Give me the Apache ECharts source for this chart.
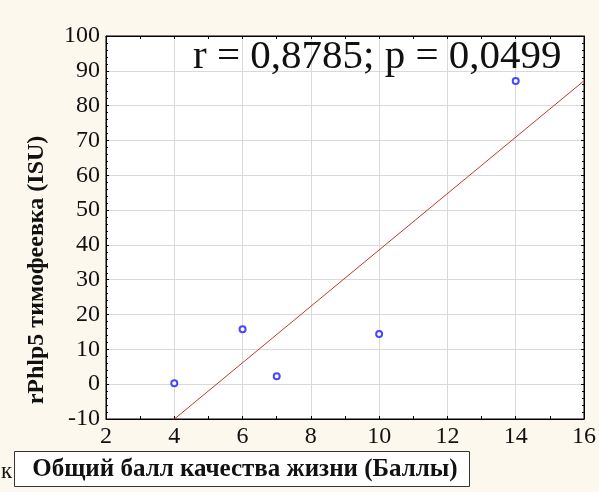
<!DOCTYPE html>
<html>
<head>
<meta charset="utf-8">
<script src="https://cdn.jsdelivr.net/npm/echarts@6/dist/echarts.min.js"></script>
<style>
html,body{margin:0;padding:0;background:#fcf8ee;}
#c{width:599px;height:492px;}
</style>
</head>
<body>
<div id="c"></div>
<script>
var xValues = [4, 6, 7, 10, 14];
var yValues = [0.3, 15.8, 2.3, 14.4, 87.1];
var xTicks = [2, 4, 6, 8, 10, 12, 14, 16];
var yTicks = [-10, 0, 10, 20, 30, 40, 50, 60, 70, 80, 90, 100];
var statText = 'r = 0,8785; p = 0,0499';
var xTitle = 'Общий балл качества жизни (Баллы)';
var yTitle = 'rPhlp5 тимофеевка (ISU)';
var strayLetter = 'к';

var points = xValues.map(function (x, i) { return [x, yValues[i]]; });
// least squares fit
var n = xValues.length, mx = 0, my = 0;
for (var i = 0; i < n; i++) { mx += xValues[i]; my += yValues[i]; }
mx /= n; my /= n;
var sxx = 0, sxy = 0;
for (var i = 0; i < n; i++) { sxx += (xValues[i]-mx)*(xValues[i]-mx); sxy += (xValues[i]-mx)*(yValues[i]-my); }
var slope = sxy / sxx, icpt = my - slope * mx;
var xMin = xTicks[0], xMax = xTicks[xTicks.length-1];
var yMin = yTicks[0], yMax = yTicks[yTicks.length-1];
var fitLine = [[xMin, icpt + slope * xMin], [xMax, icpt + slope * xMax]];

var serif = '"Liberation Serif","Times New Roman",serif';
var chart = echarts.init(document.getElementById('c'));
chart.setOption({
  backgroundColor: '#fcf8ee',
  animation: false,
  grid: { left: 106, right: 13, top: 36, bottom: 73, show: true, backgroundColor: '#ffffff', borderColor: '#000', borderWidth: 1 },
  xAxis: [{
    type: 'value', min: xMin, max: xMax, interval: 2,
    axisLine: { show: true, onZero: false, lineStyle: { color: '#000' } },
    axisTick: { show: true, inside: true, length: 3, lineStyle: { color: '#000' } },
    minorTick: { show: true, splitNumber: 2, length: 3, lineStyle: { color: '#000' } },
    splitLine: { show: true, lineStyle: { color: '#d9d9d9', width: 1 } },
    axisLabel: { fontFamily: serif, fontSize: 24, color: '#111', margin: 6 }
  }, {
    type: 'value', min: xMin, max: xMax, interval: 2, position: 'top',
    axisLine: { show: true, onZero: false, lineStyle: { color: '#000' } },
    axisTick: { show: true, inside: true, length: 3, lineStyle: { color: '#000' } },
    minorTick: { show: true, splitNumber: 2, length: 3, lineStyle: { color: '#000' } },
    splitLine: { show: false }, axisLabel: { show: false }
  }],
  yAxis: [{
    type: 'value', min: yMin, max: yMax, interval: 10,
    axisLine: { show: true, onZero: false, lineStyle: { color: '#000' } },
    axisTick: { show: true, inside: true, length: 3, lineStyle: { color: '#000' } },
    minorTick: { show: true, splitNumber: 5, length: 2, lineStyle: { color: '#000' } },
    splitLine: { show: true, lineStyle: { color: '#d9d9d9', width: 1 } },
    axisLabel: { fontFamily: serif, fontSize: 24, color: '#111', margin: 6 }
  }, {
    type: 'value', min: yMin, max: yMax, interval: 10, position: 'right',
    axisLine: { show: true, onZero: false, lineStyle: { color: '#000' } },
    axisTick: { show: true, inside: true, length: 3, lineStyle: { color: '#000' } },
    minorTick: { show: true, splitNumber: 5, length: 2, lineStyle: { color: '#000' } },
    splitLine: { show: false }, axisLabel: { show: false }
  }],
  series: [{
    type: 'line', data: fitLine, symbol: 'none', clip: true,
    lineStyle: { color: '#c0392b', width: 1 }, z: 2
  }, {
    type: 'scatter', data: points, symbol: 'circle', symbolSize: 6,
    itemStyle: { color: '#ffffff', borderColor: '#1a1aff', borderWidth: 2 }, z: 3
  }],
  graphic: [
    { type: 'text', left: 193, top: 37, z: 10,
      style: { text: statText, font: '41px ' + serif, fill: '#111' } },
    { type: 'text', x: 37, y: 270, rotation: Math.PI/2, z: 10,
      style: { text: yTitle, font: 'bold 24px ' + serif, fill: '#111', align: 'center', verticalAlign: 'middle' } },
    { type: 'rect', shape: { x: 14.5, y: 451.5, width: 455, height: 35 }, z: 10,
      style: { fill: '#ffffff', stroke: '#333', lineWidth: 1 } },
    { type: 'text', x: 245, y: 470, z: 11,
      style: { text: xTitle, font: 'bold 25px ' + serif, fill: '#111', align: 'center', verticalAlign: 'middle' } },
    { type: 'text', x: 1, y: 472, z: 11,
      style: { text: strayLetter, font: '23px ' + serif, fill: '#111', verticalAlign: 'middle' } }
  ]
});
</script>
</body>
</html>
